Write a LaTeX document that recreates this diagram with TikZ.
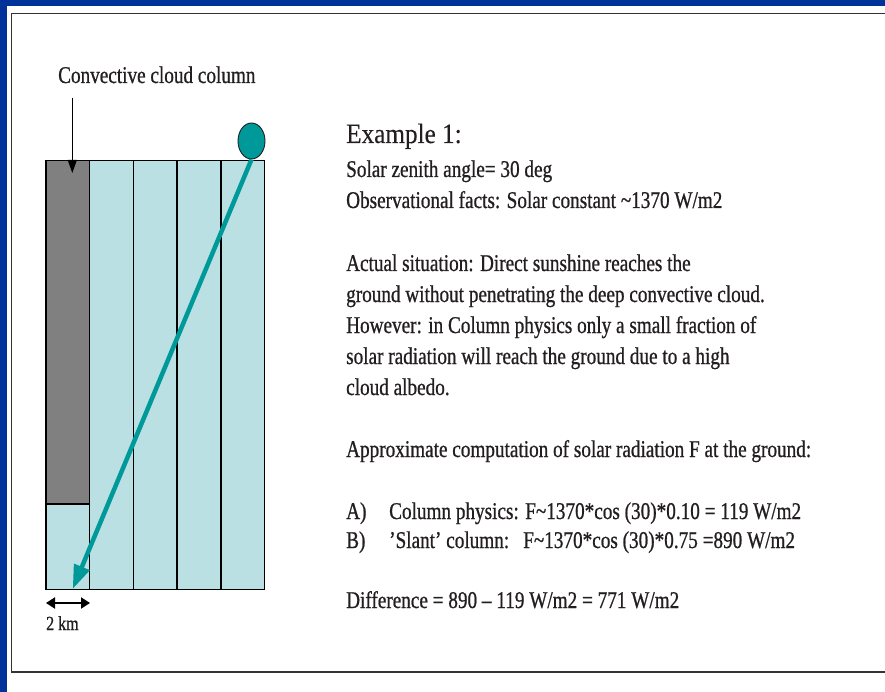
\documentclass[tikz,border=0pt]{standalone}
\usepackage{fontspec}
\setmainfont[FakeStretch=0.8,FakeBold=0.8]{Liberation Serif}
\newfontfamily\headfont[FakeStretch=0.9,FakeBold=0.3]{Liberation Serif}
\usetikzlibrary{arrows.meta,shapes.geometric}
\definecolor{slideblue}{HTML}{003399}
\definecolor{cloudgray}{HTML}{808080}
\definecolor{clearsky}{HTML}{BBE0E3}
\definecolor{sunteal}{HTML}{009999}
\definecolor{inkgray}{HTML}{231F20}

\begin{document}
\begin{tikzpicture}[x=1pt, y=-1pt,
  every node/.style={inner sep=0pt, text=inkgray},
  txt/.style={anchor=base west, font=\fontsize{24}{28}\selectfont}]
  \useasboundingbox (0,0) rectangle (885,692);
  % Slide frame
  \fill[slideblue] (0,0) rectangle (885,6);
  \fill[slideblue] (0,0) rectangle (7,692);
  \draw[line width=1.5pt, black!80] (11.5,13.5) rectangle (895,672);

  % Model columns
  \fill[clearsky] (46,160.5) rectangle (264.5,589.5);
  \fill[cloudgray] (46,160.5) rectangle (89.7,504);
  \draw[line width=1.4pt] (46,504) -- (89.7,504);
  \foreach \x in {46,89.7,133.4,177.1,220.8}
    \draw[line width=1.4pt] (\x,160.5) rectangle ++(43.7,429);

  % Cloud label and arrow
  \node[txt] (cloudlbl) at (58,83) {Convective cloud column};
  \coordinate (cloudtop) at (72.3,98);
  \coordinate (cloudtip) at (72.3,173);
  \draw[line width=1.1pt, -{Triangle[length=13pt,width=9pt]}] (cloudtop) -- (cloudtip);

  % Sun and slanted beam
  \node[ellipse, draw=inkgray, line width=0.9pt, fill=sunteal,
    minimum width=27pt, minimum height=36pt] (sun) at (251.5,141) {};
  \coordinate (ground) at (72.7,589);
  \draw[sunteal, line width=4.5pt, -{Triangle[length=24pt,width=16pt]}] (sun.south) -- (ground);

  % Scale
  \coordinate (kmL) at (46,603);
  \coordinate (kmR) at (90,603);
  \draw[line width=2pt, {Triangle[length=9pt,width=11pt]}-{Triangle[length=9pt,width=11pt]}] (kmL) -- (kmR);
  \node[anchor=base west, font=\fontsize{20}{24}\selectfont] (km) at (46,630) {2 km};

  % Text
  \node[anchor=base west, font=\headfont\fontsize{28}{32}\selectfont] (hdr) at (346,143) {Example 1:};
  \node[txt] (zen) at (346,177) {Solar zenith angle= 30 deg};
  \node[txt] (obs) at (346,208) {Observational facts: Solar constant \textasciitilde1370 W/m2};

  \node[txt] (act1) at (346,271) {Actual situation: Direct sunshine reaches the};
  \node[txt] (act2) at (346,302) {ground without penetrating the deep convective cloud.};
  \node[txt] (act3) at (346,333) {However: in Column physics only a small fraction of};
  \node[txt] (act4) at (346,364) {solar radiation will reach the ground due to a high};
  \node[txt] (act5) at (346,395) {cloud albedo.};

  \node[txt] (approx) at (346,457) {Approximate computation of solar radiation F at the ground:};

  \node[txt] (labA) at (346,519) {A)};
  \node[txt] (colA) at (389,519) {Column physics: F\textasciitilde1370*cos (30)*0.10 = 119 W/m2};
  \node[txt] (labB) at (346,548) {B)};
  \node[txt] (colB) at (389,548) {’Slant’ column:};
  \node[txt] (colBf) at (523,548) {F\textasciitilde1370*cos (30)*0.75 =890 W/m2};

  \node[txt] (diff) at (346,608) {Difference = 890 – 119 W/m2 = 771 W/m2};
\end{tikzpicture}
\end{document}
